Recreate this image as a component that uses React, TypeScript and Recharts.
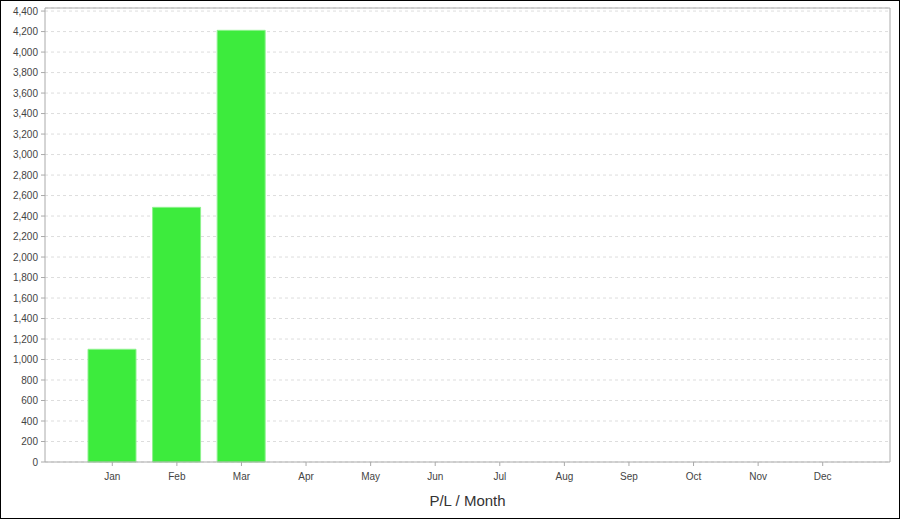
import React from 'react';
import { BarChart, Bar, XAxis, YAxis, CartesianGrid } from 'recharts';

const months = ['Jan', 'Feb', 'Mar', 'Apr', 'May', 'Jun', 'Jul', 'Aug', 'Sep', 'Oct', 'Nov', 'Dec'];
const profit: (number | null)[] = [1100, 2485, 4212, null, null, null, null, null, null, null, null, null];
const yTicks = [0, 200, 400, 600, 800, 1000, 1200, 1400, 1600, 1800, 2000, 2200, 2400, 2600, 2800, 3000, 3200, 3400, 3600, 3800, 4000, 4200, 4400];

const data = months.map((m, i) => ({ month: m, pl: profit[i] }));

const FONT = '"Liberation Sans", Arial, sans-serif';
const AXIS = '#aaaaaa';

const App = () => {
  return (
    <div
      style={{
        position: 'absolute',
        left: 0,
        top: 0,
        width: 900,
        height: 519,
        border: '1px solid #000',
        boxSizing: 'border-box',
        background: '#fff',
      }}
    >
      <BarChart
        width={898}
        height={517}
        data={data}
        margin={{ top: 6, right: 8, left: 0, bottom: 0 }}
        style={{ fontFamily: FONT }}
      >
        <CartesianGrid vertical={false} stroke="#dddddd" strokeDasharray="3 3" />
        <XAxis
          dataKey="month"
          height={56}
          padding={{ left: 35, right: 35 }}
          axisLine={{ stroke: AXIS }}
          tickLine={{ stroke: AXIS }}
          tickSize={4}
          tickMargin={7}
          tick={{ fontSize: 10, fill: '#444' }}
          interval={0}
          label={{ value: 'P/L / Month', position: 'insideBottom', offset: 12, fontSize: 15, fill: '#333' }}
        />
        <XAxis xAxisId="top" orientation="top" height={1} tick={false} tickLine={false} axisLine={{ stroke: AXIS }} />
        <YAxis
          width={44}
          domain={[0, 4430]}
          ticks={yTicks}
          interval={0}
          axisLine={{ stroke: AXIS }}
          tickLine={{ stroke: AXIS }}
          tickSize={4}
          tickMargin={3}
          tick={{ fontSize: 10, fill: '#444' }}
          tickFormatter={(v) => Number(v).toLocaleString('en-US')}
        />
        <YAxis yAxisId="right" orientation="right" width={1} tick={false} tickLine={false} axisLine={{ stroke: AXIS }} />
        <Bar dataKey="pl" fill="#3deb3d" stroke="#8ef28e" strokeWidth={1} barSize={48} isAnimationActive={false} />
      </BarChart>
    </div>
  );
};

export default App;
